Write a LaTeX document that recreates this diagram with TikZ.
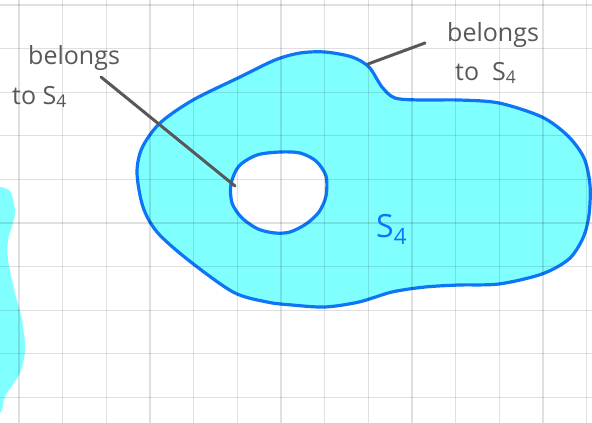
\documentclass[tikz,border=0pt]{standalone}
\usepackage{fontspec}
\setmainfont{Open Sans}
\newcommand{\Sfour}{S\textsubscript{4}}
\begin{document}
\begin{tikzpicture}[x=1pt,y=-1pt,
  pen/.style={draw=c1,line width=3.2pt,line join=round},
  gridline/.style={draw=black,opacity=0.12,line width=1.3pt},
  note/.style={text=c2,font=\fontsize{25}{29}\selectfont,inner sep=0pt,anchor=base west},
  pointer/.style={draw=c2,line width=3pt,line cap=round}]
  \definecolor{c0}{RGB}{128,255,255}
  \definecolor{c1}{RGB}{12,118,246}
  \definecolor{c2}{RGB}{88,88,88}
  \def\gx{43.66}
  \def\gy{43.6}
  \useasboundingbox (0,0) rectangle (592,423);

  % the set with its hole
  \path[pen,fill=c0,even odd rule]
    plot[smooth cycle] coordinates {(300,53) (325,52) (352,57) (369,67) (382,87)
      (395,98) (420,100) (459,100) (499,103) (542,117) (568,136) (584,158)
      (590,185) (589,215) (583,238) (569,259) (542,274) (499,284) (459,285)
      (425,287) (392,292) (359,302) (325,307) (292,305) (267,302) (233,292)
      (187,259) (157,232) (143,207) (137,173) (142,148) (160,123) (193,100)
      (240,77) (275,60)}
    plot[smooth cycle] coordinates {(280,152) (300,153) (316,161) (326,176)
      (326,196) (319,212) (306,224) (290,232) (275,233) (258,229) (242,218)
      (232,203) (231,184) (239,166) (257,155)};

  % part of another set at the left edge
  \fill[c0] plot[smooth] coordinates {(0,187) (10,191) (15,210) (13,223) (8,240)
    (8,260) (15,293) (22,320) (25,350) (20,373) (7,393) (4,400) (2,410) (0,413)} -- cycle;

  % grid
  \foreach \i in {0,...,13}
    \draw[gridline] (19+\i*\gx,0) -- (19+\i*\gx,423);
  \foreach \j in {0,...,9}
    \draw[gridline] (0,5+\j*\gy) -- (592,5+\j*\gy);

  % labels
  \node[note] (bel1) at (28,64) {belongs};
  \node[note] (to1) at (12,104) {to \Sfour};
  \coordinate (from1) at (101,77);
  \coordinate (hit1) at (235,186);
  \draw[pointer] (from1) -- (hit1);

  \node[note] (bel2) at (447,41) {belongs};
  \node[note] (to2) at (455,80) {to \ \Sfour};
  \coordinate (from2) at (425,43);
  \coordinate (hit2) at (368,64);
  \draw[pointer] (from2) -- (hit2);

  \node[text=c1,font=\fontsize{32}{36}\selectfont,inner sep=0pt,anchor=base west] (set) at (376,237) {\Sfour};
\end{tikzpicture}
\end{document}
